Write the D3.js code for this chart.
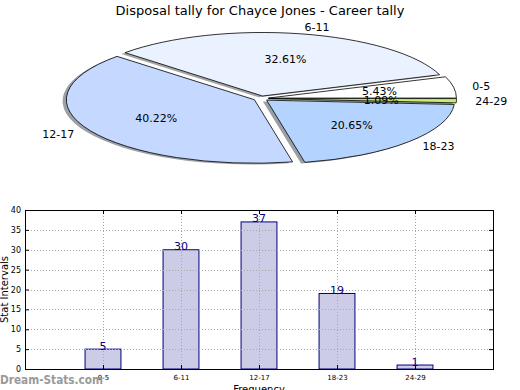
<!DOCTYPE html>
<html lang="en">
<head>
<meta charset="utf-8">
<style>
    body { margin: 0; background: #fff; }
    svg { display: block; font-family: "DejaVu Sans", sans-serif; }
</style>
<script src="https://d3js.org/d3.v7.min.js"></script>
</head>
<body>
<svg width="520" height="390"></svg>
<script>

    // data
    var categories = ["0-5", "6-11", "12-17", "18-23", "24-29"];
    var counts = [5, 30, 37, 19, 1];
    var sliceColors = ["#ffffff", "#ebf2ff", "#c5d8ff", "#b4d4ff", "#c8ec78"];
    var yTicks = [0, 5, 10, 15, 20, 25, 30, 35, 40];

    var svg = d3.select("svg");

    svg.append("text")
        .attr("x", 260).attr("y", 15)
        .attr("text-anchor", "middle")
        .style("font-size", "13px")
        .text("Disposal tally for Chayce Jones - Career tally");

    /* pie: matplotlib style, starts at 3 o'clock, counter clockwise */
    var cx = 261, cy = 98.5, rx = 188, ry = 63.5;
    var explode = 0.04;
    var total = d3.sum(counts);

    var pie = d3.pie().sort(null)
        .startAngle(Math.PI / 2)
        .endAngle(Math.PI / 2 - 2 * Math.PI);

    var arc = d3.arc().innerRadius(0).outerRadius(1);

    var slices = pie(counts).map(function(d, i) {
        var theta = Math.PI / 2 - (d.startAngle + d.endAngle) / 2;
        return {
            arc: d, i: i, theta: theta,
            ox: explode * rx * Math.cos(theta),
            oy: -explode * ry * Math.sin(theta)
        };
    });

    var pieG = svg.append("g");

    // shadows below all wedges
    pieG.selectAll(".shadow")
        .data(slices)
        .enter().append("path")
        .attr("class", "shadow")
        .attr("d", function(s) { return arc(s.arc); })
        .attr("transform", function(s) {
            return "translate(" + (cx + s.ox - 0.02 * rx) + "," + (cy + s.oy + 0.02 * ry) + ") scale(" + rx + "," + ry + ")";
        })
        .attr("fill", function(s) {
            var c = d3.rgb(sliceColors[s.i]);
            return d3.rgb(c.r * 0.3, c.g * 0.3, c.b * 0.3);
        })
        .attr("opacity", 0.5);

    pieG.selectAll(".wedge")
        .data(slices)
        .enter().append("path")
        .attr("class", "wedge")
        .attr("d", function(s) { return arc(s.arc); })
        .attr("transform", function(s) {
            return "translate(" + (cx + s.ox) + "," + (cy + s.oy) + ") scale(" + rx + "," + ry + ")";
        })
        .attr("fill", function(s) { return sliceColors[s.i]; })
        .attr("stroke", "#000")
        .attr("stroke-width", 0.8)
        .attr("vector-effect", "non-scaling-stroke");

    // category labels at 1.1 radius
    pieG.selectAll(".lbl")
        .data(slices)
        .enter().append("text")
        .attr("class", "lbl")
        .attr("x", function(s) { return cx + s.ox + 1.1 * rx * Math.cos(s.theta); })
        .attr("y", function(s) { return cy + s.oy - 1.1 * ry * Math.sin(s.theta); })
        .attr("dy", "0.35em")
        .attr("text-anchor", function(s) { return Math.cos(s.theta) > 0 ? "start" : "end"; })
        .style("font-size", "11px")
        .text(function(s) { return categories[s.i]; });

    // percentages at 0.6 radius
    pieG.selectAll(".pct")
        .data(slices)
        .enter().append("text")
        .attr("class", "pct")
        .attr("x", function(s) { return cx + s.ox + 0.6 * rx * Math.cos(s.theta); })
        .attr("y", function(s) { return cy + s.oy - 0.6 * ry * Math.sin(s.theta); })
        .attr("dy", "0.35em")
        .attr("text-anchor", "middle")
        .style("font-size", "11px")
        .text(function(s) { return (counts[s.i] / total * 100).toFixed(2) + "%"; });

    /* bar chart */
    var pL = 25, pR = 493, pT = 210, pB = 369;
    var x = d3.scaleLinear().domain([-1, categories.length]).range([pL, pR]);
    var y = d3.scaleLinear().domain([0, 40]).range([pB, pT]);
    var barW = 0.46;

    var barG = svg.append("g");

    barG.selectAll(".bar")
        .data(counts)
        .enter().append("rect")
        .attr("class", "bar")
        .attr("x", function(d, i) { return x(i - barW / 2); })
        .attr("width", function() { return x(barW) - x(0); })
        .attr("y", function(d) { return y(d); })
        .attr("height", function(d) { return y(0) - y(d); })
        .attr("fill", "#ccccE6")
        .attr("stroke", "#000080")
        .attr("stroke-width", 1);

    // dotted grid over the bars
    barG.selectAll(".hgrid")
        .data(yTicks.slice(1, -1))
        .enter().append("line")
        .attr("x1", pL).attr("x2", pR)
        .attr("y1", function(d) { return Math.round(y(d)) + 0.5; })
        .attr("y2", function(d) { return Math.round(y(d)) + 0.5; })
        .attr("stroke", "#a8a8a8")
        .attr("stroke-dasharray", "1,2");

    barG.selectAll(".vgrid")
        .data(categories)
        .enter().append("line")
        .attr("x1", function(d, i) { return Math.round(x(i)) + 0.5; })
        .attr("x2", function(d, i) { return Math.round(x(i)) + 0.5; })
        .attr("y1", pT).attr("y2", pB)
        .attr("stroke", "#a8a8a8")
        .attr("stroke-dasharray", "1,2");

    // axes with inward ticks
    var yAxisL = d3.axisLeft(y).tickValues(yTicks).tickSize(-4).tickPadding(4);
    var yAxisR = d3.axisRight(y).tickValues(yTicks).tickSize(-4).tickFormat("");
    var xAxisB = d3.axisBottom(x).tickValues(d3.range(categories.length))
        .tickFormat(function(i) { return categories[i]; })
        .tickSize(-4).tickPadding(6);
    var xAxisT = d3.axisTop(x).tickValues(d3.range(categories.length)).tickSize(-4).tickFormat("");

    function styleAxis(g, size) {
        g.select(".domain").remove();
        g.selectAll("text").style("font-size", size).style("font-family", "DejaVu Sans").attr("fill", "#000");
        g.selectAll("line").attr("stroke", "#000");
    }

    barG.append("g").attr("transform", "translate(" + pL + ",0)").call(yAxisL).call(styleAxis, "8px");
    barG.append("g").attr("transform", "translate(" + pR + ",0)").call(yAxisR).call(styleAxis, "8px");
    barG.append("g").attr("transform", "translate(0," + pB + ")").call(xAxisB).call(styleAxis, "7px");
    barG.append("g").attr("transform", "translate(0," + pT + ")").call(xAxisT).call(styleAxis, "7px");

    barG.append("rect")
        .attr("x", pL + 0.5).attr("y", pT + 0.5)
        .attr("width", pR - pL).attr("height", pB - pT)
        .attr("fill", "none")
        .attr("stroke", "#000");

    // value labels
    barG.selectAll(".val")
        .data(counts)
        .enter().append("text")
        .attr("class", "val")
        .attr("x", function(d, i) { return x(i); })
        .attr("y", function(d) { return y(d) + 0.5; })
        .attr("text-anchor", "middle")
        .attr("fill", "#000080")
        .style("font-size", "11px")
        .text(function(d) { return d; });

    svg.append("text")
        .attr("transform", "translate(8," + ((pT + pB) / 2) + ") rotate(-90)")
        .attr("text-anchor", "middle")
        .style("font-size", "10px")
        .text("Stat Intervals");

    svg.append("text")
        .attr("x", (pL + pR) / 2).attr("y", 393)
        .attr("text-anchor", "middle")
        .style("font-size", "10px")
        .text("Frequency");

    // watermark
    svg.append("text")
        .attr("x", 0).attr("y", 384)
        .attr("fill", "#9a9a9a")
        .attr("textLength", 103)
        .attr("lengthAdjust", "spacingAndGlyphs")
        .style("font-size", "13px")
        .style("font-weight", "bold")
        .text("Dream-Stats.com");
</script>
</body>
</html>
